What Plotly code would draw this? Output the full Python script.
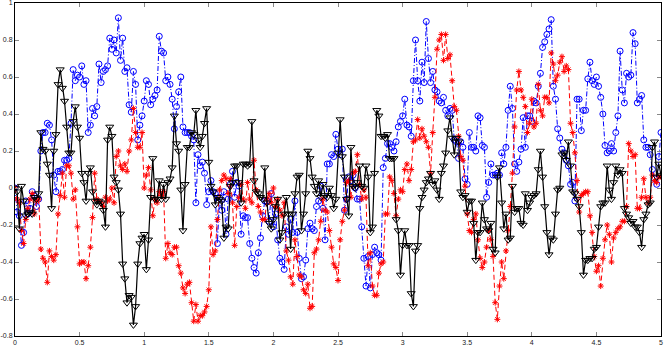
import numpy as np
import plotly.graph_objects as go

blue_vals = [
    0.00, -0.13, -0.15, -0.31, -0.24, -0.07, -0.14, -0.11, -0.02, -0.04,
    -0.10, -0.06, 0.20, 0.30, 0.30, 0.35, 0.34, 0.26, 0.07, -0.02,
    0.09, 0.09, 0.10, 0.15, 0.15, 0.16, 0.35, 0.64, 0.58, 0.61,
    0.60, 0.66, 0.56, 0.58, 0.30, 0.34, 0.43, 0.39, 0.44, 0.67,
    0.57, 0.63, 0.64, 0.66, 0.81, 0.75, 0.80, 0.73, 0.92, 0.69,
    0.81, 0.63, 0.65, 0.45, 0.41, 0.63, 0.56, 0.26, 0.34, 0.39,
    0.47, 0.58, 0.56, 0.45, 0.48, 0.50, 0.53, 0.82,
    0.74, 0.73, 0.58, 0.60, 0.56, 0.48, 0.32, 0.44, 0.52, 0.60, 0.33,
    0.30, 0.30, 0.30, 0.28, 0.26, -0.08, 0.18, 0.12, 0.14, 0.08,
    -0.09, -0.02, 0.04, -0.02, -0.03, -0.30, -0.05, -0.12, -0.02, -0.25,
    -0.06, 0.02, 0.09, -0.05, 0.03, 0.01, -0.25, -0.15, -0.16, -0.16,
    -0.30, -0.38, -0.43, -0.46, -0.35, -0.27, -0.15, -0.07, -0.07, -0.18,
    -0.03, -0.21, -0.14, -0.28, -0.38, -0.40, -0.44, -0.21, -0.25, -0.17,
    -0.24, -0.07, -0.24, -0.38, -0.49, -0.48, -0.39, -0.22, -0.19, -0.22,
    -0.23, -0.10, -0.07,
    0.01, -0.11, -0.28, 0.13, 0.13, 0.18, 0.17, 0.29, 0.21, 0.18,
    0.21, -0.12, -0.06, 0.06, 0.04, 0.07, 0.00, -0.06, -0.06,
    -0.21, -0.38, -0.53, -0.37, -0.54, -0.36, -0.32, -0.35, -0.36, -0.39,
    0.11, 0.16, 0.24, 0.24, 0.22, 0.20, 0.25, 0.33, 0.36, 0.39,
    0.48, 0.34, 0.33, 0.28, 0.58, 0.80, 0.58, 0.47, 0.68, 0.57,
    0.90, 0.70, 0.57, 0.63, 0.53, 0.52, 0.47, 0.46, 0.49, 0.42,
    0.39, 0.43, 0.42, 0.26, 0.25, 0.16, 0.25, 0.22, 0.05, 0.02,
    0.30, 0.22, 0.22, 0.20, 0.39, 0.38, 0.23, 0.22, -0.05, 0.03,
    0.13, 0.07, 0.07, 0.08, 0.07, 0.19, 0.13, 0.22, 0.42, 0.55,
    0.43, 0.13, 0.09, 0.14, 0.21, 0.38, 0.22, 0.39, 0.39, 0.36,
    0.47, 0.46, 0.55, 0.62, 0.76, 0.79, 0.83, 0.86, 0.91, 0.55,
    0.48, 0.32, 0.27, 0.21, 0.19, 0.15, 0.12, 0.02, 0.03, -0.07,
    0.48, 0.48, 0.31, 0.42, 0.42, 0.59, 0.68, 0.58, 0.56, 0.60,
    0.55, 0.49, 0.40, 0.23, 0.19, 0.20, 0.24, 0.20, 0.30, 0.39,
    0.74, 0.53, 0.46, 0.62, 0.60, 0.61, 0.84, 0.78, 0.46, 0.48,
    0.50, 0.26, 0.22, 0.22, 0.18, 0.10, 0.05, 0.02, 0.17, 0.30,
]

red_vals = [
    0.00, -0.06, -0.08, -0.23, -0.30, -0.17, -0.11, -0.06, -0.03, -0.14,
    -0.07, -0.06, -0.33, -0.38, -0.40, -0.51, -0.34, -0.37, -0.39, -0.36,
    -0.14, -0.04, 0.08, -0.05, 0.12, 0.12, 0.08, -0.06, -0.01, -0.21,
    -0.41, -0.40, -0.40, -0.49, -0.42, -0.32, -0.16, 0.08, -0.06, -0.07,
    -0.08, -0.10, -0.05, -0.07, -0.06, 0.00, -0.08, 0.17, 0.20, 0.12,
    0.10, 0.13, 0.09, 0.20, 0.26, 0.43, 0.30, 0.22, 0.22, 0.30,
    0.00, 0.07, 0.11, -0.01, -0.15, -0.06, -0.08, -0.02, -0.04, -0.02,
    -0.38,
    -0.30, -0.35, -0.36, -0.32, -0.32, -0.42, -0.46, -0.54, -0.57, -0.52,
    -0.51, -0.62, -0.72, -0.63, -0.72, -0.69, -0.69, -0.67, -0.64, -0.55,
    -0.21, -0.36, -0.34, -0.17, -0.01, 0.04, 0.07, 0.05, -0.03, 0.05,
    -0.08, -0.31, -0.10, -0.05, 0.02, -0.06, -0.11, 0.03, -0.06, -0.08,
    0.15, -0.01, -0.10, -0.13, -0.17, -0.17, -0.06, -0.03, -0.08, 0.00,
    -0.10, -0.06, -0.12, -0.15, -0.08, -0.34, -0.39, -0.48, -0.52, -0.28,
    -0.37, -0.47, -0.48, -0.55, -0.57, -0.52, -0.65, -0.64, -0.35, -0.33,
    -0.28, -0.18, -0.06, -0.12,
    -0.13, -0.23, -0.32, -0.41, -0.43, -0.50, -0.28, -0.18, -0.12, 0.03,
    0.04, -0.05, 0.08, 0.09, 0.18, 0.02, -0.06, -0.01, -0.05, -0.42,
    -0.35, -0.53, -0.58, -0.58, -0.46, -0.41, -0.40, -0.14, -0.14, 0.06,
    0.04, -0.03, -0.15, -0.06, -0.01, -0.02, 0.10, 0.13, 0.04, 0.10,
    0.25, 0.26, 0.37, 0.27, 0.32, 0.28, 0.25, 0.22, 0.08, 0.30,
    0.49, 0.75, 0.80, 0.83, 0.69, 0.83, 0.70, 0.72, 0.58, 0.44,
    0.42, 0.28, 0.17, 0.15, 0.01, -0.14, -0.23, -0.24, -0.17, -0.14,
    -0.28, -0.38, -0.43, -0.40,
    -0.32, -0.23, -0.28, -0.37, -0.62, -0.71, -0.53, -0.40, -0.49, -0.34,
    -0.23, -0.10, 0.08, 0.33, 0.53, 0.63, 0.53, 0.49, 0.44, 0.30,
    0.35, 0.48, 0.33, 0.35, 0.56, 0.42, 0.39, 0.49, 0.49, 0.46,
    0.73, 0.67, 0.58, 0.61, 0.68, 0.71, 0.63, 0.66, 0.64, 0.35,
    0.30, 0.19, 0.04, -0.13, -0.04, -0.03, -0.02, -0.02, -0.15, -0.24,
    -0.37, -0.45, -0.42, -0.53, -0.38, -0.28, -0.20, -0.25, -0.40, -0.27,
    -0.24, -0.22, -0.21, -0.18, -0.18, -0.10, 0.24, 0.20, 0.17, 0.18,
    -0.11, -0.11, -0.05, 0.05, -0.05, -0.08, -0.05, 0.07, 0.04, 0.03,
    0.06, 0.06,
]

black_vals = [
    0.00, -0.02, -0.22, 0.01, -0.07, -0.15, -0.14, -0.13, -0.14, -0.05,
    -0.06, -0.03, 0.30, 0.21, 0.20, 0.13, 0.07, -0.11, 0.20, 0.29,
    0.56, 0.64, 0.54, 0.47, 0.33, 0.19, 0.19, 0.36, 0.44, 0.33,
    0.27, 0.08, 0.03, -0.07, 0.08, 0.11, -0.02, -0.07, -0.09, -0.07,
    -0.08, -0.12, -0.21, 0.26, 0.33, 0.28, 0.06, 0.03, -0.01, -0.14,
    -0.41, -0.49, -0.62, -0.58, -0.59, -0.74, -0.64, -0.41, -0.30, -0.27,
    -0.25, -0.44, -0.28, -0.05, 0.16, -0.06, -0.06, 0.04, -0.06, 0.02,
    -0.06, 0.03, 0.05,
    0.11, 0.39, 0.24, 0.20, -0.01, -0.23, 0.02, 0.22, 0.22, 0.30,
    0.29, 0.42, 0.26, 0.22, 0.28, 0.35, 0.43, 0.14, 0.01, -0.02,
    -0.09, -0.05, -0.06, -0.07, -0.27, -0.21, -0.22, 0.01, 0.03, 0.12,
    0.12, 0.03, -0.08, 0.13, 0.13, 0.12, 0.13, 0.36, 0.04, -0.02,
    -0.03, -0.05, -0.06, 0.11, -0.08, -0.19, -0.22, -0.17, -0.10, -0.06,
    -0.28, -0.24, -0.14, -0.05, -0.14, -0.33, -0.14, -0.03, 0.06, 0.07,
    -0.23, -0.14, -0.03, 0.20, 0.16, 0.06, 0.01, -0.03, 0.04, -0.05,
    0.02,
    -0.04, -0.05, 0.00, -0.04, -0.11, -0.06, 0.19, 0.37, 0.17, 0.06,
    -0.06, -0.15, 0.22, 0.01, 0.00, 0.03, 0.12, 0.01, 0.00, 0.12,
    0.06, -0.24, -0.21, 0.08, 0.42, 0.39, 0.28, 0.28, 0.27, 0.29,
    0.16, 0.16, 0.16, -0.17, -0.23, -0.47, -0.31, -0.23, -0.31, -0.31,
    -0.57, -0.64, -0.34, -0.31, -0.11, -0.05, -0.01, 0.03, 0.05, 0.08,
    0.02, 0.04, -0.01, -0.06, 0.08, 0.12, 0.19, 0.31, 0.38, 0.27,
    0.18, 0.27, 0.25, -0.02, -0.05, -0.04, -0.13, -0.07, -0.07, -0.19,
    -0.39, -0.24, -0.24, -0.08, -0.17, -0.22, -0.23, -0.19,
    -0.33, -0.35, 0.06, 0.11, -0.08, -0.22, -0.14, -0.28, -0.27, 0.01,
    -0.13, -0.11, -0.11, -0.19, -0.20, -0.03, -0.12, -0.08, -0.05, -0.04,
    -0.03, 0.10, 0.20, 0.06, -0.10, -0.24, -0.36, -0.27, -0.28, -0.14,
    -0.01, 0.00, 0.18, 0.19, 0.15, 0.25, 0.12, -0.02, -0.03, -0.06,
    -0.10, -0.24, -0.47, -0.39, -0.39, -0.38, -0.38, -0.33, -0.32, -0.21,
    -0.10, -0.08, -0.08, 0.12, -0.01, -0.06, 0.03, 0.12, 0.07, 0.10,
    0.08, -0.11, -0.14, -0.16, -0.19, -0.18, -0.21, -0.21, -0.24, -0.32,
    -0.17, -0.14, -0.09, -0.08, 0.22, 0.25, 0.06, 0.13, 0.07,
]

x_ticks = [0, 0.5, 1, 1.5, 2, 2.5, 3, 3.5, 4, 4.5, 5]
x_labels = ["0", "0.5", "1", "1.5", "2", "2.5", "3", "3.5", "4", "4.5", "5"]
y_ticks = [-0.8, -0.6, -0.4, -0.2, 0, 0.2, 0.4, 0.6, 0.8, 1]
y_labels = ["-0.8", "-0.6", "-0.4", "-0.2", "0", "0.2", "0.4", "0.6", "0.8", "1"]


def grid_for(vals):
    # each series is sampled on the same uniform grid over [0, 5]
    return np.linspace(0, 5, len(vals))


fig = go.Figure()

fig.add_trace(go.Scatter(
    x=grid_for(blue_vals), y=blue_vals,
    mode="lines+markers",
    line=dict(color="#0000ff", width=1, dash="5px,2px,1px,2px"),
    marker=dict(symbol="circle-open", size=6, color="#0000ff", line=dict(width=1)),
    showlegend=False,
))

fig.add_trace(go.Scatter(
    x=grid_for(red_vals), y=red_vals,
    mode="lines+markers",
    line=dict(color="#ff0000", width=1, dash="5px,3px"),
    marker=dict(symbol="asterisk-open", size=5, color="#ff0000", line=dict(width=1, color="#ff0000")),
    showlegend=False,
))

fig.add_trace(go.Scatter(
    x=grid_for(black_vals), y=black_vals,
    mode="lines+markers",
    line=dict(color="#000000", width=1.2),
    marker=dict(symbol="triangle-down-open", size=7, color="#000000", line=dict(width=1)),
    showlegend=False,
))

axis_common = dict(
    showgrid=False,
    zeroline=False,
    showline=True,
    linecolor="#000000",
    linewidth=1,
    mirror="ticks",
    ticks="inside",
    ticklen=4,
    tickwidth=1,
    tickcolor="#888888",
    automargin=False,
    ticklabeloverflow="allow",
    tickfont=dict(family="Liberation Sans, Arial, sans-serif", size=7, color="#222222"),
)

fig.update_xaxes(range=[0, 5], tickvals=x_ticks, ticktext=x_labels, **axis_common)
fig.update_yaxes(range=[-0.8, 1], tickvals=y_ticks, ticktext=y_labels, **axis_common)

fig.update_layout(
    width=664,
    height=346,
    margin=dict(l=15, r=3, t=3, b=10),
    paper_bgcolor="white",
    plot_bgcolor="white",
    showlegend=False,
)

# the page's default body margin would shift the figure; drop it
fig.write_html(
    "out.html",
    config={"displayModeBar": False},
    post_script="document.body.style.margin='0';",
)
